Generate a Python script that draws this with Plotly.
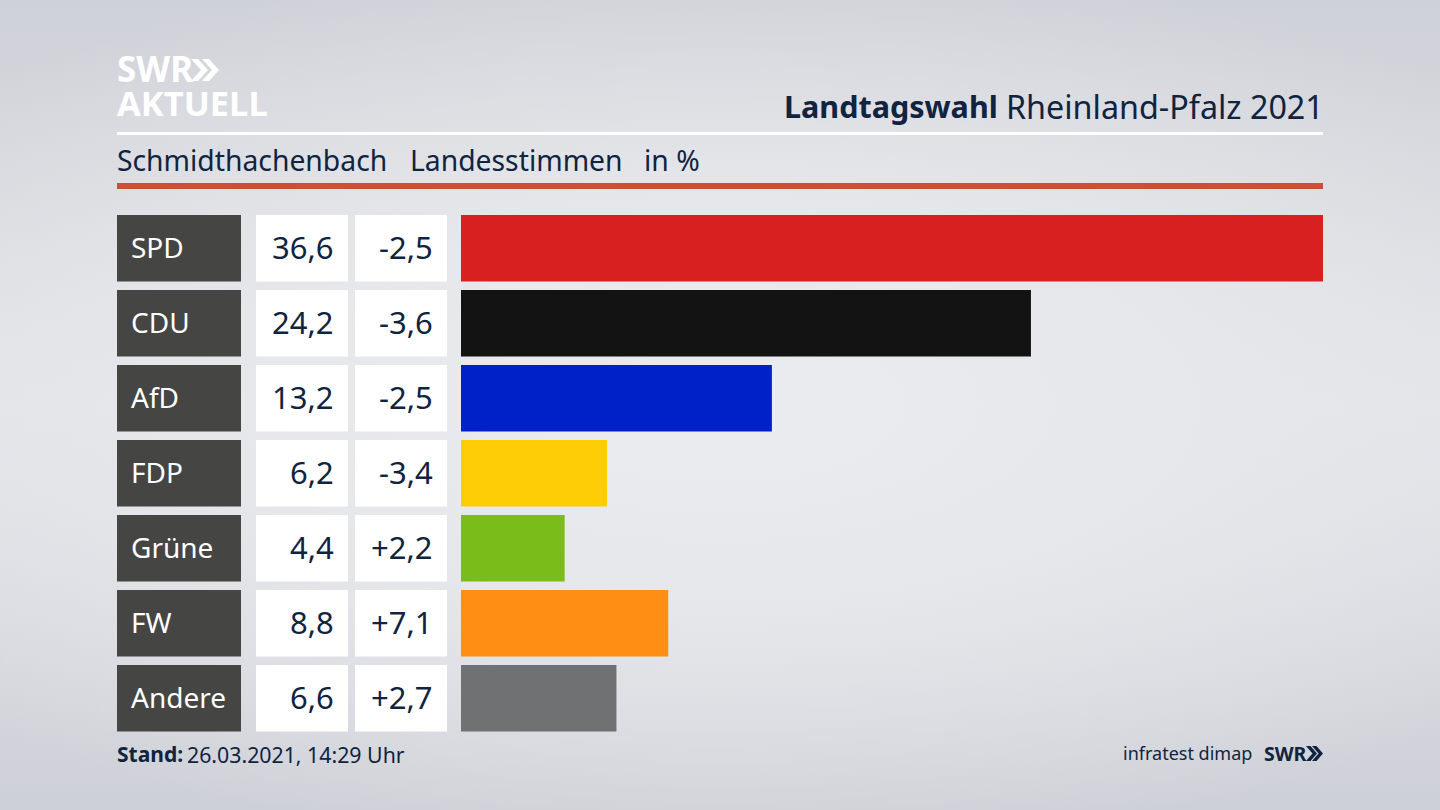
import plotly.graph_objects as go

# Landesstimmen Schmidthachenbach
parties = ["SPD", "CDU", "AfD", "FDP", "Grüne", "FW", "Andere"]
shares = [36.6, 24.2, 13.2, 6.2, 4.4, 8.8, 6.6]
changes = [-2.5, -3.6, -2.5, -3.4, 2.2, 7.1, 2.7]
bar_colors = ["#d7201f", "#131313", "#0020c8", "#ffcd06", "#7abc19", "#ff8e14", "#707173"]

W = 1440
H = 810
NAVY = "#10233f"
FONT = "Noto Sans"


def px(x):
    return x / W


def py(y):
    return 1 - y / H


def label(x, y, text, size, color=NAVY, anchor="left"):
    fig.add_annotation(xref="paper", yref="paper", x=px(x), y=py(y), text=text,
                       showarrow=False, xanchor=anchor, yanchor="middle", borderpad=0,
                       font=dict(family=FONT, size=size, color=color))


def band(x0, x1, y0, y1, color):
    fig.add_shape(type="rect", xref="paper", yref="paper", x0=px(x0), x1=px(x1),
                  y0=py(y0), y1=py(y1), fillcolor=color, line_width=0, layer="below")


def chevrons(x, top, bottom, wide, thick, offset, color):
    # the two arrows of the SWR logo
    mid = (top + bottom) / 2
    for left in (x, x + offset):
        pts = [(left, top), (left + thick, top), (left + wide, mid),
               (left + thick, bottom), (left, bottom), (left + wide - thick, mid)]
        path = "M" + " L".join(f"{px(a):.5f},{py(b):.5f}" for a, b in pts) + " Z"
        fig.add_shape(type="path", xref="paper", yref="paper", path=path, fillcolor=color, line_width=0)


fig = go.Figure()
fig.add_trace(go.Bar(x=shares, y=parties, orientation="h", marker=dict(color=bar_colors, line_width=0),
                     hoverinfo="skip", showlegend=False))

# left hand table cells, same rows as the bars
for i, party in enumerate(parties):
    for x0, x1, color in [(117, 241, "#454543"), (256, 348, "#ffffff"), (355, 447, "#ffffff")]:
        fig.add_shape(type="rect", xref="paper", yref="y", x0=px(x0), x1=px(x1),
                      y0=i - 0.444, y1=i + 0.444, fillcolor=color, line_width=0, layer="below")
    fig.add_annotation(xref="paper", yref="y", x=px(130), y=i, yshift=1, text=party, showarrow=False,
                       xanchor="left", borderpad=0, font=dict(family=FONT, size=28, color="#ffffff"))
    fig.add_annotation(xref="paper", yref="y", x=px(334.5), y=i, yshift=1, text=f"{shares[i]:.1f}".replace(".", ","),
                       showarrow=False, xanchor="right", borderpad=0, font=dict(family=FONT, size=31, color=NAVY))
    fig.add_annotation(xref="paper", yref="y", x=px(434), y=i, yshift=1, text=f"{changes[i]:+.1f}".replace(".", ","),
                       showarrow=False, xanchor="right", borderpad=0, font=dict(family=FONT, size=31, color=NAVY))

# header
label(116, 69, "<b>SWR</b>", 35, "#ffffff")
chevrons(191, 59, 81, 17, 7, 11, "#ffffff")
label(116, 103, "<b>AKTUELL</b>", 34.5, "#ffffff")
label(999, 106, "<b>Landtagswahl</b>", 30.5, NAVY, "right")
label(1325, 106, "Rheinland-Pfalz 2021", 32.3, NAVY, "right")
band(117, 1323, 132, 135, "#ffffff")
label(116, 160, "Schmidthachenbach", 28.3)
label(409, 160, "Landesstimmen", 28.3)
label(643, 160, "in %", 28.3)
band(117, 1323, 183, 189, "#cd4f38")

# footer
label(116, 754, "<b>Stand:</b>", 21)
label(186, 754, "26.03.2021, 14:29 Uhr", 21.3)
label(1253, 753, "infratest dimap", 18, NAVY, "right")
label(1263, 753, "<b>SWR</b>", 19.5)
chevrons(1306, 746, 761, 11, 4.5, 6, NAVY)

fig.update_layout(
    width=W, height=H, autosize=False, margin=dict(l=0, r=0, t=0, b=0),
    paper_bgcolor="rgba(0,0,0,0)", plot_bgcolor="rgba(0,0,0,0)", bargap=0.112,
    xaxis=dict(domain=[px(461), px(1323)], range=[0, 36.6], visible=False),
    yaxis=dict(domain=[py(735.75), py(210.75)], categoryorder="array", categoryarray=parties,
               autorange="reversed", visible=False),
)

page_style = """
document.body.style.margin = '0';
document.body.style.background = 'radial-gradient(ellipse 75% 55% at 50% 50%, #ebecf0 0%, #e6e7eb 45%, rgba(230,231,235,0) 100%), linear-gradient(180deg, #ced1d7 0%, #d6d8dd 25%, #e3e4e9 50%, #d6d8de 78%, #cdd0d6 100%)';
"""
fig.write_html("out.html", post_script=page_style, config={"displayModeBar": False})
